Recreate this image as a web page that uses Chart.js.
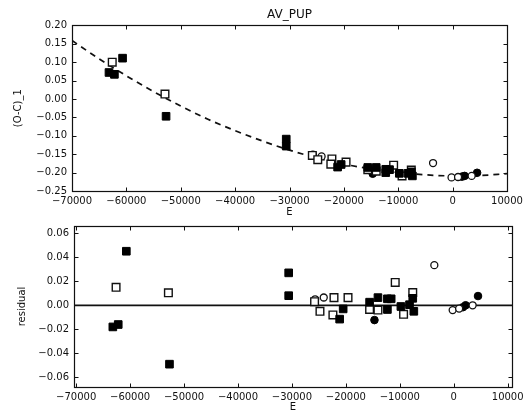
<!DOCTYPE html>
<html><head><meta charset="utf-8">
<script src="https://cdn.jsdelivr.net/npm/chart.js@4/dist/chart.umd.min.js"></script>
<style>
html,body{margin:0;padding:0;background:#fff;}
#wrap{position:relative;width:523px;height:415px;overflow:hidden;background:#fff;}
canvas{position:absolute;left:0;}
#c1{top:0;width:523px;height:220px;}
#c2{top:215px;width:523px;height:200px;}
</style></head><body>
<div id="wrap"><canvas id="c1" width="523" height="220"></canvas><canvas id="c2" width="523" height="200"></canvas></div>
<script>
// ---- data ----
const xTicks = [-70000,-60000,-50000,-40000,-30000,-20000,-10000,0,10000];
const ocTicks = [-0.25,-0.20,-0.15,-0.10,-0.05,0.00,0.05,0.10,0.15,0.20];
const resTicks = [-0.06,-0.04,-0.02,0.00,0.02,0.04,0.06];

const filledSqE   = [-63200,-62200,-60700,-52700,-30600,-30600,-21150,-20500,-15600,-14050,-12300,-11600,-12300,-9800,-8200,-7600,-7400];
const filledSqOC  = [0.072,0.067,0.111,-0.047,-0.109,-0.128,-0.185,-0.178,-0.186,-0.186,-0.191,-0.192,-0.200,-0.202,-0.202,-0.198,-0.209];
const filledSqRes = [-0.018,-0.016,0.045,-0.049,0.027,0.008,-0.0115,-0.003,0.0026,0.0064,0.0054,0.0054,-0.0035,-0.001,0.0005,0.0058,-0.005];

const openSqE   = [-62600,-52900,-25800,-24800,-22200,-22400,-19600,-15600,-14050,-10850,-9300,-7600];
const openSqOC  = [0.100,0.0135,-0.1535,-0.165,-0.163,-0.177,-0.1715,-0.192,-0.196,-0.180,-0.209,-0.193];
const openSqRes = [0.015,0.0104,0.003,-0.005,0.0064,-0.008,0.0064,-0.0035,-0.004,0.019,-0.0075,0.0106];

const openCircE   = [-25700,-24100,-3600,-200,1000,3500];
const openCircOC  = [-0.151,-0.156,-0.174,-0.213,-0.212,-0.209];
const openCircRes = [0.005,0.0065,0.0334,-0.004,-0.0027,0.000];

const filledCircE   = [-14700,1700,2200,4500];
const filledCircOC  = [-0.203,-0.211,-0.209,-0.2005];
const filledCircRes = [-0.0123,-0.0016,0.000,0.0077];

const fitE  = [-70000,-65000,-60000,-55000,-50000,-45000,-40000,-35000,-30000,-25000,-20000,-15000,-10000,-5000,0,5000,10000];
const fitOC = [0.159,0.109,0.063,0.020,-0.019,-0.055,-0.086,-0.114,-0.139,-0.160,-0.177,-0.190,-0.200,-0.206,-0.209,-0.208,-0.203];

const zeroRes = [0, 0];

// ---- helpers ----
const FONT = 'DejaVu Sans';
const pts = (xs, ys) => xs.map((x, i) => ({x, y: ys[i]}));
const minus = s => s.replace('-', '\u2212');
const fmtX = v => minus(String(v));
const fmt2 = v => minus((Math.abs(v) < 1e-9 ? 0 : v).toFixed(2));

const frame = {
  id: 'frame',
  afterDraw(chart) {
    const {ctx, chartArea: a, scales} = chart;
    const x = scales.x, y = scales.y;
    ctx.save();
    ctx.strokeStyle = '#111';
    ctx.lineWidth = 1.2;
    const L = Math.round(a.left) + 0.5, R = Math.round(a.right) + 0.5;
    const T = Math.round(a.top) + 0.5, B = Math.round(a.bottom) + 0.5;
    ctx.strokeRect(L, T, R - L, B - T);
    ctx.lineWidth = 1;
    ctx.beginPath();
    x.ticks.forEach(t => {
      const p = Math.round(x.getPixelForValue(t.value)) + 0.5;
      ctx.moveTo(p, B); ctx.lineTo(p, B - 4);
      ctx.moveTo(p, T); ctx.lineTo(p, T + 4);
    });
    y.ticks.forEach(t => {
      const p = Math.round(y.getPixelForValue(t.value)) + 0.5;
      ctx.moveTo(L, p); ctx.lineTo(L + 4, p);
      ctx.moveTo(R, p); ctx.lineTo(R - 4, p);
    });
    ctx.stroke();
    ctx.restore();
  }
};

const markerSets = (ys) => [
  {data: pts(filledSqE, ys[0]), pointStyle: 'rect', pointRadius: 5.4, backgroundColor: '#000', borderColor: '#000', borderWidth: 1},
  {data: pts(openSqE, ys[1]), pointStyle: 'rect', pointRadius: 5.4, backgroundColor: '#fff', borderColor: '#111', borderWidth: 1.4},
  {data: pts(openCircE, ys[2]), pointStyle: 'circle', pointRadius: 3.5, backgroundColor: '#fff', borderColor: '#111', borderWidth: 1.3},
  {data: pts(filledCircE, ys[3]), pointStyle: 'circle', pointRadius: 3.8, backgroundColor: '#000', borderColor: '#000', borderWidth: 1}
];

function xScale(min, max, h) {
  return {
    type: 'linear', min, max,
    afterBuildTicks: s => { s.ticks = xTicks.map(v => ({value: v})); },
    afterFit: s => { s.height = h; s.paddingRight = 0; s.paddingLeft = 0; },
    grid: {display: false, drawTicks: false},
    border: {display: false},
    ticks: {color: '#111', font: {family: FONT, size: 10}, padding: 4, maxRotation: 0, autoSkip: false, callback: fmtX},
    title: {display: true, text: 'E', color: '#111', font: {family: FONT, size: 10}, padding: {top: 0, bottom: 2}}
  };
}
function yScale(min, max, tickList, w, title, tpad) {
  return {
    type: 'linear', min, max,
    afterBuildTicks: s => { s.ticks = tickList.map(v => ({value: v})); },
    afterFit: s => { s.width = w; },
    grid: {display: false, drawTicks: false},
    border: {display: false},
    ticks: {color: '#111', font: {family: FONT, size: 10}, padding: 5, autoSkip: false, callback: fmt2},
    title: {display: true, text: title, color: '#111', font: {family: FONT, size: 10}, padding: {top: tpad, bottom: 0}}
  };
}

Chart.defaults.animation = false;

new Chart(document.getElementById('c1'), {
  type: 'scatter',
  data: {
    datasets: [
      ...markerSets([filledSqOC, openSqOC, openCircOC, filledCircOC]),
      {data: pts(fitE, fitOC), showLine: true, pointRadius: 0, borderColor: '#111', borderWidth: 1.7, borderDash: [6, 5], cubicInterpolationMode: 'monotone', fill: false}
    ]
  },
  options: {
    responsive: false, devicePixelRatio: 1, animation: false,
    layout: {padding: {left: 0, right: 16, top: 0, bottom: 0}},
    plugins: {
      legend: {display: false}, tooltip: {enabled: false},
      title: {display: true, text: 'AV_PUP', fullSize: false, color: '#111', font: {family: FONT, size: 12, weight: 'normal'}, padding: {top: 8, bottom: 3}}
    },
    scales: {
      x: xScale(-70000, 10000, 29),
      y: yScale(-0.25, 0.20, ocTicks, 72, '(O-C)_1', 12)
    }
  },
  plugins: [frame]
});

new Chart(document.getElementById('c2'), {
  type: 'scatter',
  data: {
    datasets: [
      ...markerSets([filledSqRes, openSqRes, openCircRes, filledCircRes]),
      {data: pts([-70400, 10800], zeroRes), showLine: true, pointRadius: 0, borderColor: '#111', borderWidth: 1.7, fill: false}
    ]
  },
  options: {
    responsive: false, devicePixelRatio: 1, animation: false,
    layout: {padding: {left: 0, right: 11, top: 7, bottom: 0}},
    plugins: {legend: {display: false}, tooltip: {enabled: false}},
    scales: {
      x: xScale(-70400, 10800, 28),
      y: yScale(-0.068, 0.066, resTicks, 74, 'residual', 16)
    }
  },
  plugins: [frame]
});
</script>
</body></html>
